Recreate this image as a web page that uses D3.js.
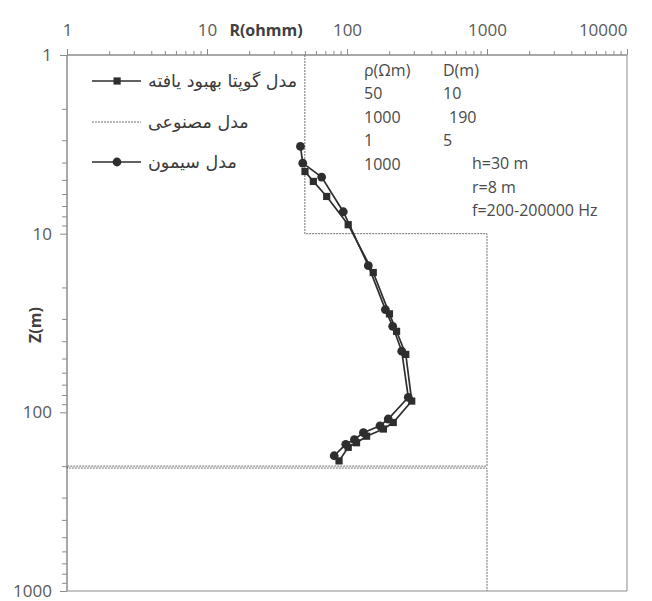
<!DOCTYPE html>
<html><head><meta charset="utf-8">
<script src="https://cdn.jsdelivr.net/npm/d3@7"></script>
<style>body{margin:0;background:#fff}</style>
</head><body>
<svg id="c" width="652" height="601"></svg>
<script>
// ---- data ----
const xMajor = [1, 10, 100, 1000, 10000];
const yMajor = [1, 10, 100, 1000];
const modelRho = [50, 50, 1000, 1000, 1, 1, 1000, 1000];
const modelDepth = [1, 10, 10, 200, 200, 205, 205, 1000];
const simonR = [46.5, 48.3, 65.9, 94.1, 142, 188, 212, 246, 274, 197, 172, 131, 113, 98, 81];
const simonZ = [3.25, 4.03, 4.82, 7.54, 15.1, 26.6, 33.0, 45.5, 82.4, 109, 119, 130, 142, 151, 175];
const guptaR = [50.1, 57.5, 71.6, 102, 154, 201, 226, 263, 290, 214, 182, 138, 117, 102, 87.7];
const guptaZ = [4.49, 5.10, 6.19, 8.91, 16.5, 28.1, 35.2, 47.4, 86.5, 114, 124, 136, 148, 157, 187];
const legendLabels = ["مدل گوپتا بهبود یافته", "مدل مصنوعی", "مدل سیمون"];
const tableHead = ["ρ(Ωm)", "D(m)"];
const rhoCol = ["50", "1000", "1", "1000"];
const depthCol = ["10", "190", "5"];
const params = ["h=30 m", "r=8 m", "f=200-200000 Hz"];

const svg = d3.select("#c");
const L = 67, R = 627, T = 55, B = 591;
const x = d3.scaleLog().domain([1, 10000]).range([L, R]);
const y = d3.scaleLog().domain([1, 1000]).range([T, B]);
const axisCol = "#8c8c8c", textCol = "#595959", lineCol = "#2e2e2e";

function minors(majors) {
  const m = [];
  for (let i = 0; i < majors.length - 1; i++)
    for (let k = 2; k <= 9; k++) m.push(majors[i] * k);
  return m;
}

// plot border (right, bottom)
svg.append("line").attr("x1", R).attr("x2", R).attr("y1", T).attr("y2", B).attr("stroke", axisCol);
svg.append("line").attr("x1", L).attr("x2", R).attr("y1", B).attr("y2", B).attr("stroke", axisCol);

// top axis
const gx = svg.append("g").attr("transform", `translate(0,${T})`);
gx.call(d3.axisTop(x).tickValues(minors(xMajor)).tickSize(4).tickFormat(""));
const gx2 = svg.append("g").attr("transform", `translate(0,${T})`);
gx2.call(d3.axisTop(x).tickValues(xMajor).tickSize(6).tickPadding(13).tickFormat(d3.format("d")));
[gx, gx2].forEach(g => { g.selectAll("path,line").attr("stroke", axisCol); g.select(".domain").attr("d", `M${L},0H${R}`); });
gx2.selectAll("text").attr("fill", textCol).attr("font-family", "Open Sans, sans-serif").attr("font-size", 17);
gx2.selectAll("text").filter(d => d === 10000).attr("text-anchor", "end").attr("x", 0);

// left axis
const gy = svg.append("g").attr("transform", `translate(${L},0)`);
gy.call(d3.axisLeft(y).tickValues(minors(yMajor)).tickSize(5).tickFormat(""));
const gy2 = svg.append("g").attr("transform", `translate(${L},0)`);
gy2.call(d3.axisLeft(y).tickValues(yMajor).tickSize(7).tickPadding(8).tickFormat(d3.format("d")));
[gy, gy2].forEach(g => { g.selectAll("path,line").attr("stroke", axisCol); g.select(".domain").attr("d", `M0,${T}V${B}`); });
gy2.selectAll("text").attr("fill", textCol).attr("font-family", "Open Sans, sans-serif").attr("font-size", 17);

// axis titles
svg.append("text").attr("x", 266).attr("y", 36).attr("text-anchor", "middle")
  .attr("font-family", "Open Sans, sans-serif").attr("font-weight", "bold").attr("font-size", 16)
  .attr("fill", "#404040").text("R(ohmm)");
svg.append("text").attr("transform", "translate(41,325) rotate(-90)").attr("text-anchor", "middle")
  .attr("font-family", "Open Sans, sans-serif").attr("font-weight", "bold").attr("font-size", 16)
  .attr("fill", "#404040").text("Z(m)");

// model dotted line
const model = modelRho.map((r, i) => [r, modelDepth[i]]);
svg.append("path").datum(model)
  .attr("d", d3.line().x(d => x(d[0])).y(d => y(d[1])))
  .attr("fill", "none").attr("stroke", "#6e6e6e").attr("stroke-width", 1).attr("stroke-dasharray", "2,1");

// series
function series(rs, zs, shape) {
  const pts = rs.map((r, i) => [r, zs[i]]);
  svg.append("path").datum(pts)
    .attr("d", d3.line().x(d => x(d[0])).y(d => y(d[1])))
    .attr("fill", "none").attr("stroke", lineCol).attr("stroke-width", 1.7);
  if (shape === "circle") {
    svg.selectAll(null).data(pts).enter().append("circle")
      .attr("cx", d => x(d[0])).attr("cy", d => y(d[1])).attr("r", 4.4).attr("fill", lineCol);
  } else {
    svg.selectAll(null).data(pts).enter().append("rect")
      .attr("x", d => x(d[0]) - 3.6).attr("y", d => y(d[1]) - 3.6).attr("width", 7.2).attr("height", 7.2).attr("fill", lineCol);
  }
}
series(simonR, simonZ, "circle");
series(guptaR, guptaZ, "square");

// legend
const legY = [81, 122, 162];
const lg = svg.append("g");
lg.append("line").attr("x1", 92).attr("x2", 141).attr("y1", legY[0]).attr("y2", legY[0]).attr("stroke", lineCol).attr("stroke-width", 1.7);
lg.append("rect").attr("x", 113.5).attr("y", legY[0] - 3.6).attr("width", 7.2).attr("height", 7.2).attr("fill", lineCol);
lg.append("line").attr("x1", 92).attr("x2", 141).attr("y1", legY[1]).attr("y2", legY[1]).attr("stroke", "#6e6e6e").attr("stroke-dasharray", "2,1");
lg.append("line").attr("x1", 92).attr("x2", 141).attr("y1", legY[2]).attr("y2", legY[2]).attr("stroke", lineCol).attr("stroke-width", 1.7);
lg.append("circle").attr("cx", 117).attr("cy", legY[2]).attr("r", 4.4).attr("fill", lineCol);
lg.selectAll("text.leg").data(legendLabels).enter().append("text")
  .attr("x", 148).attr("y", (d, i) => legY[i] + 6).attr("text-anchor", "start")
  .attr("font-family", "DejaVu Sans, sans-serif").attr("font-size", 17.5).attr("fill", "#3a3a3a")
  .text(d => d);

// table text
const tf = "Open Sans, sans-serif";
const tt = svg.append("g").attr("font-family", tf).attr("font-size", 16).attr("fill", "#4a4a4a");
tt.append("text").attr("x", 364).attr("y", 76).text(tableHead[0]);
tt.append("text").attr("x", 443).attr("y", 76).text(tableHead[1]);
tt.selectAll("text.r").data(rhoCol).enter().append("text")
  .attr("x", 364).attr("y", (d, i) => 99 + i * 23.5).text(d => d);
tt.selectAll("text.d").data(depthCol).enter().append("text")
  .attr("x", (d, i) => i === 1 ? 449 : 443).attr("y", (d, i) => 99 + i * 23.5).text(d => d);
tt.selectAll("text.p").data(params).enter().append("text")
  .attr("x", 472).attr("y", (d, i) => 169 + i * 23.5).text(d => d);
</script>
</body></html>
